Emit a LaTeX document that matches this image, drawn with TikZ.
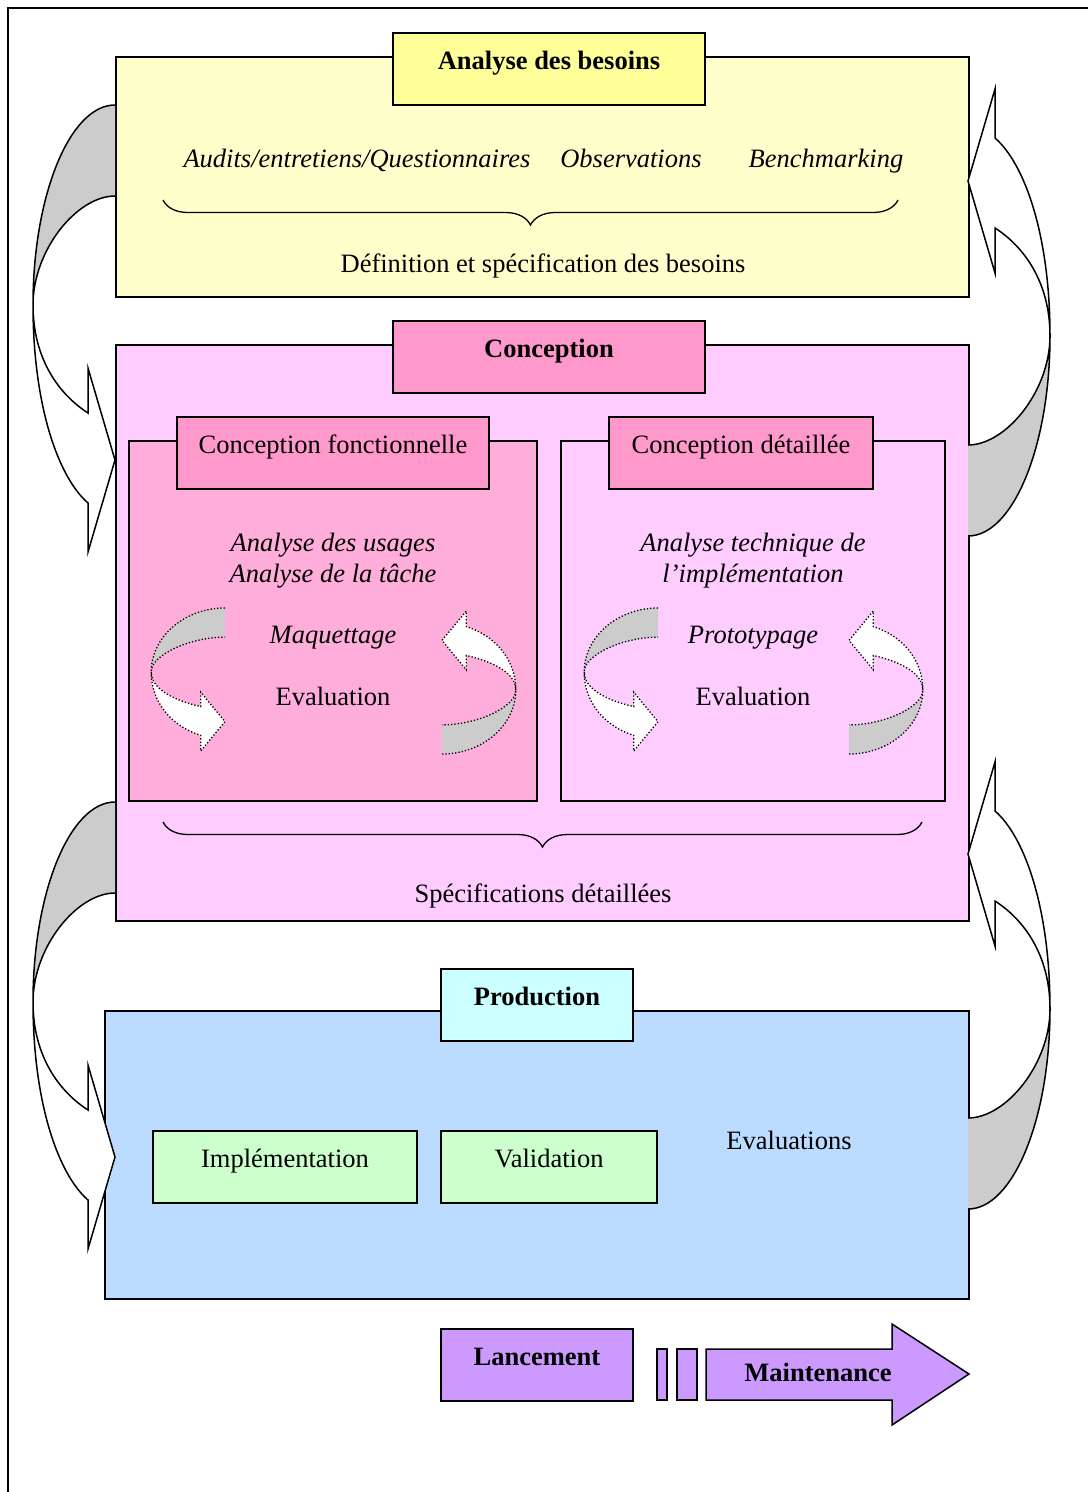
\documentclass[tikz,border=0pt]{standalone}
\usepackage{fontspec}
\setmainfont{Liberation Serif}
\usetikzlibrary{decorations.pathreplacing}
\definecolor{yel}{HTML}{FFFFCC}
\definecolor{yeltitle}{HTML}{FFFF99}
\definecolor{pnk}{HTML}{FFCCFF}
\definecolor{pnktitle}{HTML}{FF99CC}
\definecolor{pnktex}{HTML}{FFADDA}
\definecolor{blu}{HTML}{BBDCFF}
\definecolor{cyantitle}{HTML}{CCFFFF}
\definecolor{grn}{HTML}{CCFFCC}
\definecolor{purp}{HTML}{CC99FF}
\definecolor{arrgray}{HTML}{CCCCCC}
\newcommand{\fsz}{\fontsize{26.5}{31}\selectfont}
\tikzset{
  pics/loopar/.style={code={
    \filldraw[fill=white] (-82,200) .. controls (-82,300) and (-57,372) .. (-27,398)
      -- (-27,447) -- (0,355) -- (-27,263) -- (-27,308)
      .. controls (-55,290) and (-82,255) .. (-82,200) -- cycle;
    \filldraw[fill=arrgray] (0,0) .. controls (-45,0) and (-82,90) .. (-82,200)
      .. controls (-82,145) and (-38,91) .. (0,91);
  }}
}
\begin{document}
\begin{tikzpicture}[x=1pt,y=-1pt,
  every node/.style={font=\fsz},
  box/.style={draw, line width=1.5pt, inner sep=0pt, outer sep=0pt, anchor=north west},
  titlebox/.style={box, text height=12pt, text depth=12pt, minimum height=72pt},
  txt/.style={anchor=base, inner sep=0pt},
  brc/.style={decorate, decoration={brace, mirror, amplitude=25pt}, line width=1.3pt},
  bigar/.style={line width=1.5pt},
  smallar/.style={line width=1.3pt, dotted, xscale=0.9, yscale=0.32}]
\useasboundingbox (0,0) rectangle (1088,1492);
\fill[white] (0,0) rectangle (1088,1492);
\draw[line width=2pt] (8,1492) -- (8,8) -- (1088,8);

% ---- Analyse des besoins
\node[box, fill=yel, minimum width=853pt, minimum height=240pt] (besoins) at (116,57) {};
\node[titlebox, fill=yeltitle, minimum width=312pt, font=\fsz\bfseries] (tbesoins) at (393,33) {Analyse des besoins};
\node[txt, font=\fsz\itshape] (audits) at (357,167) {Audits/entretiens/Questionnaires};
\node[txt, font=\fsz\itshape] (obs) at (631,167) {Observations};
\node[txt, font=\fsz\itshape] (bench) at (826,167) {Benchmarking};
\coordinate (b1a) at (163,200);
\coordinate (b1b) at (898,200);
\draw[brc] (b1a) -- (b1b);
\node[txt] (defin) at (543,272) {Définition et spécification des besoins};

% ---- Conception
\node[box, fill=pnk, minimum width=853pt, minimum height=576pt] (concep) at (116,345) {};
\node[titlebox, fill=pnktitle, minimum width=312pt, font=\fsz\bfseries] (tconcep) at (393,321) {Conception};

\node[box, fill=pnktex, minimum width=408pt, minimum height=360pt] (cfbox) at (129,441) {};
\node[titlebox, fill=pnktitle, minimum width=312pt] (tcf) at (177,417) {Conception fonctionnelle};
\node[txt, font=\fsz\itshape] (usages) at (333,551) {Analyse des usages};
\node[txt, font=\fsz\itshape] (tache) at (333,582) {Analyse de la tâche};
\node[txt, font=\fsz\itshape] (maq) at (333,643) {Maquettage};
\node[txt] (eval1) at (333,705) {Evaluation};
\pic[smallar] at (225,608) {loopar};
\pic[smallar, rotate=180] at (442,754) {loopar};

\node[box, minimum width=384pt, minimum height=360pt] (cdbox) at (561,441) {};
\node[titlebox, fill=pnktitle, minimum width=264pt] (tcd) at (609,417) {Conception détaillée};
\node[txt, font=\fsz\itshape] (techn) at (753,551) {Analyse technique de};
\node[txt, font=\fsz\itshape] (impl) at (753,582) {l’implémentation};
\node[txt, font=\fsz\itshape] (proto) at (753,643) {Prototypage};
\node[txt] (eval2) at (753,705) {Evaluation};
\pic[smallar] at (658,608) {loopar};
\pic[smallar, rotate=180] at (849,754) {loopar};

\coordinate (b2a) at (163,822);
\coordinate (b2b) at (922,822);
\draw[brc] (b2a) -- (b2b);
\node[txt] (specs) at (543,902) {Spécifications détaillées};

% ---- Production
\node[box, fill=blu, minimum width=864pt, minimum height=288pt] (prod) at (105,1011) {};
\node[titlebox, fill=cyantitle, minimum width=192pt, font=\fsz\bfseries] (tprod) at (441,969) {Production};
\node[titlebox, fill=grn, minimum width=264pt] (implem) at (153,1131) {Implémentation};
\node[titlebox, fill=grn, minimum width=216pt] (valid) at (441,1131) {Validation};
\node[txt] (evals) at (789,1149) {Evaluations};

% ---- Lancement / Maintenance
\node[titlebox, fill=purp, minimum width=192pt, font=\fsz\bfseries] (lanc) at (441,1329) {Lancement};
\node[box, fill=purp, minimum width=10pt, minimum height=51pt] (bar1) at (657,1349) {};
\node[box, fill=purp, minimum width=20pt, minimum height=51pt] (bar2) at (677,1349) {};
\filldraw[fill=purp, line width=1.5pt] (706,1349) -- (892,1349) -- (892,1324) -- (969,1374)
  -- (892,1425) -- (892,1400) -- (706,1400) -- cycle;
\node[txt, font=\fsz\bfseries] (maint) at (818,1381) {Maintenance};

% ---- big loop arrows
\pic[bigar] at (115,105) {loopar};
\pic[bigar] at (115,802) {loopar};
\pic[bigar, rotate=180] at (968,536) {loopar};
\pic[bigar, rotate=180] at (968,1209) {loopar};
\end{tikzpicture}
\end{document}
